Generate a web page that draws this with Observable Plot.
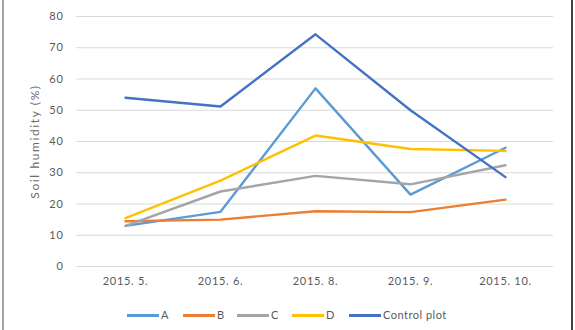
<!DOCTYPE html>
<html>
<head>
<meta charset="utf-8">
<script src="https://cdn.jsdelivr.net/npm/d3@7"></script>
<script src="https://cdn.jsdelivr.net/npm/@observablehq/plot@0.6"></script>
<style>
  html, body { margin: 0; padding: 0; background: #fff; }
  #wrap { position: relative; width: 575px; height: 330px; overflow: hidden; background: #fff; font-family: Lato, "Open Sans", sans-serif; }
  #wrap .bl { position: absolute; left: 2px; top: 0; width: 2px; height: 330px; background: #a6a6a6; }
  #wrap .br { position: absolute; left: 571px; top: 0; width: 2px; height: 330px; background: #404040; }
  #chart { position: absolute; left: 0; top: 0; }
  #chart svg text { letter-spacing: 0.7px; }
  #legend { position: absolute; left: 0; top: 306px; width: 575px; height: 18px; }
  .item { position: absolute; top: 0; height: 18px; line-height: 18px; font-size: 11px; letter-spacing: 0.5px; color: #595959; white-space: nowrap; }
  .sw { display: inline-block; width: 32px; height: 3px; vertical-align: middle; margin-right: 2px; position: relative; top: -1px; }
</style>
</head>
<body>
<div id="wrap">
  <div id="chart"></div>
  <div id="legend"></div>
  <div class="bl"></div>
  <div class="br"></div>
</div>
<script>
const months = ["2015. 5.", "2015. 6.", "2015. 8.", "2015. 9.", "2015. 10."];
const seriesNames = ["A", "B", "C", "D", "Control plot"];
const seriesColors = ["#5B9BD5", "#ED7D31", "#A5A5A5", "#FFC000", "#4472C4"];
const valuesA = [13, 17.5, 57, 23, 38];
const valuesB = [14.5, 15, 17.7, 17.4, 21.4];
const valuesC = [13, 24, 29, 26.3, 32.4];
const valuesD = [15.5, 27.5, 41.9, 37.6, 37];
const valuesControl = [54, 51.2, 74.3, 50, 28.6];
const yTicks = [0, 10, 20, 30, 40, 50, 60, 70, 80];
const yTitle = "Soil humidity (%)";

const allValues = [valuesA, valuesB, valuesC, valuesD, valuesControl];
const data = [];
seriesNames.forEach((s, i) => {
  months.forEach((m, j) => data.push({series: s, month: m, value: allValues[i][j]}));
});

const plot = Plot.plot({
  width: 575,
  height: 300,
  marginLeft: 76,
  marginRight: 22,
  marginTop: 16,
  marginBottom: 34,
  style: {fontFamily: "Lato, 'Open Sans', sans-serif", fontSize: "11px", color: "#595959", background: "transparent"},
  x: {type: "point", domain: months, padding: 0.5},
  y: {domain: [0, 80]},
  color: {domain: seriesNames, range: seriesColors},
  marks: [
    Plot.gridY(yTicks, {stroke: "#d9d9d9", strokeOpacity: 1, strokeWidth: 1}),
    Plot.axisY(yTicks, {tickSize: 0, tickPadding: 13, label: null, fill: "#595959"}),
    Plot.axisX({tickSize: 0, tickPadding: 11, label: null, fill: "#595959"}),
    Plot.text([yTitle], {frameAnchor: "left", textAnchor: "middle", rotate: -90, dx: -41, fontSize: 12, fill: "#6b6b6b", text: d => d}),
    Plot.line(data, {x: "month", y: "value", z: "series", stroke: "series", strokeWidth: 2.4, strokeLinejoin: "round", strokeLinecap: "round"})
  ]
});
document.getElementById("chart").appendChild(plot);
d3.select(plot).selectAll("text").filter(function() { return this.textContent === yTitle; }).style("letter-spacing", "1.6px");

const legendX = [127, 183, 237, 292, 349];
const legend = document.getElementById("legend");
seriesNames.forEach((s, i) => {
  const it = document.createElement("div");
  it.className = "item";
  it.style.left = legendX[i] + "px";
  const sw = document.createElement("span");
  sw.className = "sw";
  sw.style.background = seriesColors[i];
  it.appendChild(sw);
  it.appendChild(document.createTextNode(s));
  legend.appendChild(it);
});
</script>
</body>
</html>
